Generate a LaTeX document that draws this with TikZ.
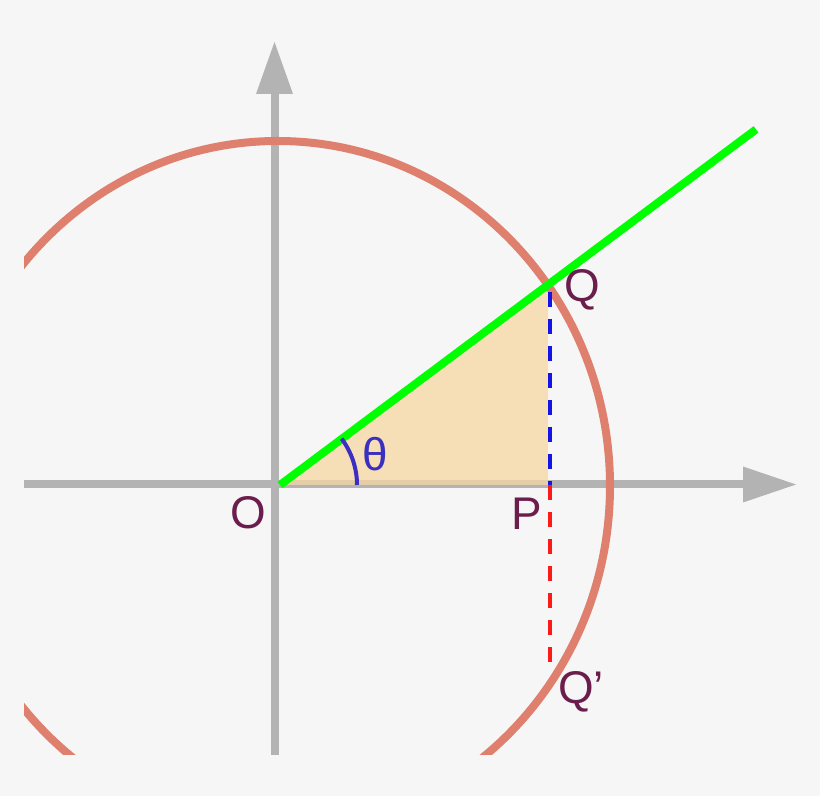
\documentclass[tikz,border=0pt]{standalone}
\usepackage{fontspec}
\setmainfont{Liberation Sans}
\definecolor{bg}{HTML}{F6F6F6}
\definecolor{axisc}{HTML}{B3B3B3}
\definecolor{circc}{HTML}{DE806D}
\definecolor{greenc}{HTML}{00FF00}
\definecolor{tric}{RGB}{247,214,163}
\definecolor{labc}{HTML}{6B1D4B}
\definecolor{thetac}{HTML}{3B2FC0}
\definecolor{bluec}{HTML}{1414E6}
\definecolor{redc}{HTML}{FF1A1A}
\tikzset{
  axisline/.style={draw=axisc, line width=8bp},
  axishead/.style={fill=axisc},
  circline/.style={draw=circc, line width=8bp},
  rayline/.style={draw=greenc, line width=8bp},
  dashline/.style={line width=4bp, dash pattern=on 15bp off 12bp},
  lab/.style={text=labc, font=\fontsize{46}{50}\selectfont, inner sep=0pt, anchor=base},
}
\begin{document}
\begin{tikzpicture}[x=1bp,y=1bp]
\fill[bg] (0,0) rectangle (820,796);
\useasboundingbox (0,0) rectangle (820,796);
\coordinate (O) at (280,311);
\coordinate (Q) at (548,511);
\coordinate (P) at (548,311);
\coordinate (Qp) at (550,125);
\coordinate (C) at (277.6,310);
\coordinate (G) at (756,666.6);
\coordinate (Xe) at (745,311.5);
\coordinate (Ye) at (274.5,704);
\begin{scope}
  \clip (24,41) rectangle (820,796);
  \draw[axisline] (24,311.5) -- (Xe);
  \fill[axishead] (743,329.5) -- (796,311.5) -- (743,293.5) -- cycle;
  \draw[axisline] (274.5,41) -- (Ye);
  \fill[axishead] (256,702) -- (274.5,754) -- (293,702) -- cycle;
  \fill[tric, fill opacity=0.75] (O) -- (Q) -- (P) -- cycle;
  \draw[circline] (C) ellipse [x radius=332.4, y radius=345];
\end{scope}
\draw[rayline] (O) -- (G);
\draw[dashline, draw=bluec] (550,504) -- (550,311);
\draw[dashline, draw=redc] (550,311) -- (Qp);
\draw[draw=thetac, line width=4bp] (357,311) arc[start angle=0, end angle=37, radius=77];
\node[lab] (lO) at (248,267) {O};
\node[lab] (lP) at (527,266) {P};
\node[lab] (lQ) at (582,494) {Q};
\node[lab] (lQp) at (581,92) {Q’};
\node[lab, text=thetac] (lt) at (375,325) {θ};
\end{tikzpicture}
\end{document}
